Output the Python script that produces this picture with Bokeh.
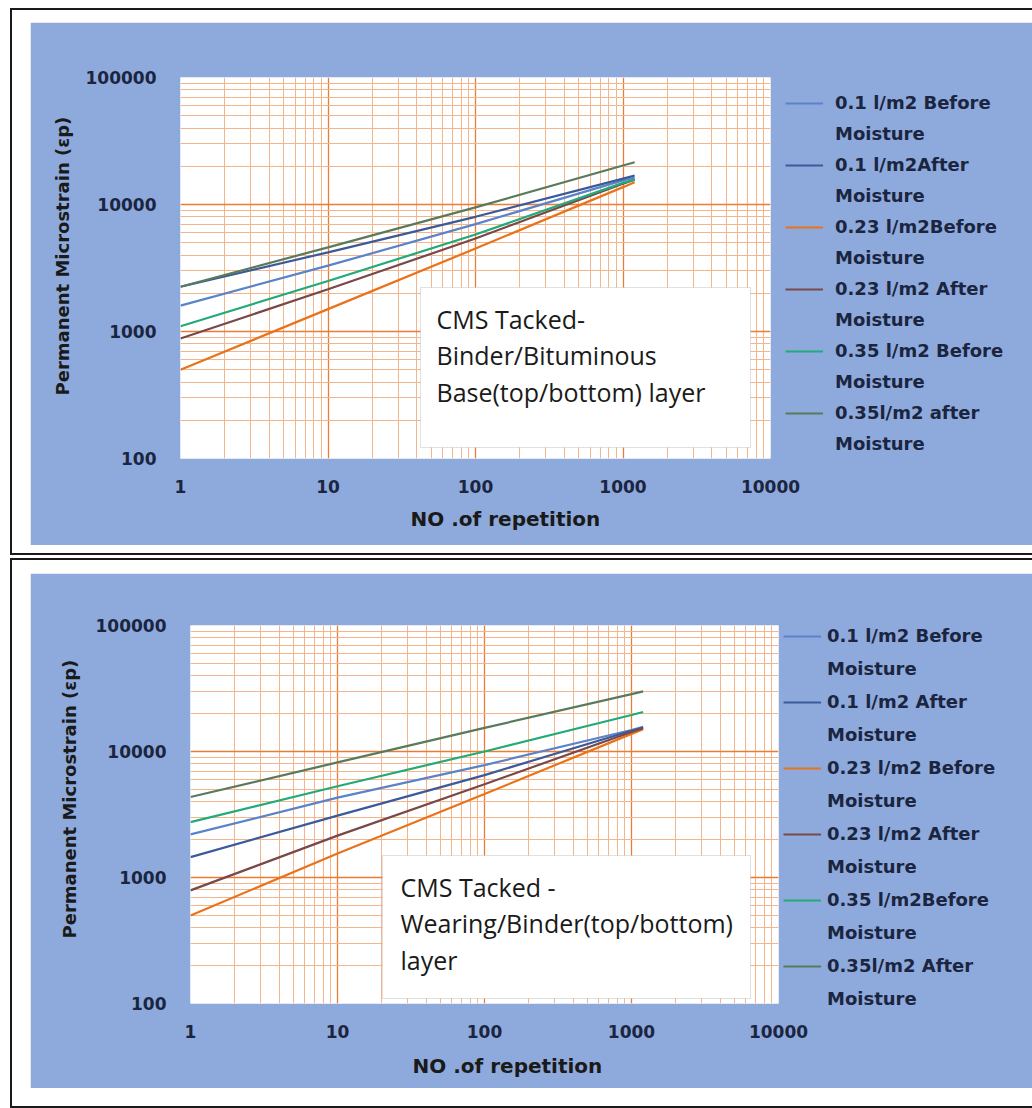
from bokeh.plotting import figure
from bokeh.models import (FixedTicker, Legend, LegendItem, BoxAnnotation, Label,
                          Range1d, PrintfTickFormatter, Title)
from bokeh.layouts import column
from bokeh.embed import file_html
from bokeh.resources import INLINE

# ---------------- data ----------------
repetitions = [1, 10, 100, 1000, 1200]

top_labels = ["0.1 l/m2 Before", "0.1 l/m2After", "0.23 l/m2Before",
              "0.23 l/m2 After", "0.35 l/m2 Before", "0.35l/m2 after"]
bottom_labels = ["0.1 l/m2 Before", "0.1 l/m2 After", "0.23 l/m2 Before",
                 "0.23 l/m2 After", "0.35 l/m2Before", "0.35l/m2 After"]
second_line = "Moisture"

# top chart: CMS Tacked - Binder/Bituminous Base
top_01_before = [1600, 3300, 7000, 15500, 16300]
top_01_after = [2250, 4200, 8000, 16000, 16900]
top_023_before = [500, 1500, 4500, 13700, 15000]
top_023_after = [880, 2150, 5400, 14600, 15700]
top_035_before = [1100, 2500, 5800, 14800, 15700]
top_035_after = [2250, 4600, 9500, 20300, 21500]

# bottom chart: CMS Tacked - Wearing/Binder
bot_01_before = [2200, 4300, 7800, 14800, 15700]
bot_01_after = [1450, 3100, 6500, 14600, 15500]
bot_023_before = [500, 1550, 4600, 13800, 15000]
bot_023_after = [790, 2150, 5500, 14300, 15300]
bot_035_before = [2750, 5300, 10000, 19500, 20600]
bot_035_after = [4350, 8200, 15400, 28500, 30000]

x_ticks = [1, 10, 100, 1000, 10000]
y_ticks = [100, 1000, 10000, 100000]
x_minor = [m * 10 ** k for k in range(0, 4) for m in range(2, 10)]
y_minor = [m * 10 ** k for k in range(2, 5) for m in range(2, 10)]

colors = ["#5b83c9", "#3b5a9a", "#e8731c", "#7a4848", "#22aa78", "#5a7a5c"]

BLUE = "#8eaadc"
TXT = "#1b2540"
FONT = "DejaVu Sans"


def make_chart(series, labels, box_lines, g):
    p = figure(x_axis_type="log", y_axis_type="log",
               x_range=Range1d(1, 10000), y_range=Range1d(100, 100000),
               frame_width=g["fw"], frame_height=g["fh"],
               min_border_left=g["l"], min_border_right=g["r"],
               min_border_top=g["t"], min_border_bottom=g["b"],
               output_backend="svg", toolbar_location=None,
               background_fill_color="white", border_fill_color=BLUE,
               outline_line_color=None)

    for ax, tk, mn in ((p.xaxis[0], x_ticks, x_minor), (p.yaxis[0], y_ticks, y_minor)):
        ax.ticker = FixedTicker(ticks=tk, minor_ticks=mn)
        ax.formatter = PrintfTickFormatter(format="%d")
        ax.axis_line_color = None
        ax.major_tick_line_color = None
        ax.minor_tick_line_color = None
        ax.major_label_text_font = FONT
        ax.major_label_text_font_style = "bold"
        ax.major_label_text_font_size = "17px"
        ax.major_label_text_color = TXT
    p.xaxis.major_label_standoff = 15
    p.yaxis.major_label_standoff = 18

    p.add_layout(Title(text="NO .of repetition", align="left", offset=g["xo"],
                       text_font=FONT, text_font_style="bold", text_font_size="20px",
                       text_color="#1a1a1a", standoff=g["xs"]), "below")
    p.add_layout(Title(text="Permanent Microstrain (\u03b5p)", align="left",
                       offset=g["yo"], text_font=FONT, text_font_style="bold",
                       text_font_size="18px", text_color="#1a1a1a",
                       standoff=g["ys"]), "left")

    for grid in (p.xgrid[0], p.ygrid[0]):
        grid.grid_line_color = "#ec7c34"
        grid.grid_line_width = 1.3
        grid.minor_grid_line_color = "#f3b58c"
        grid.minor_grid_line_width = 1

    items = []
    for vals, lab, col in zip(series, labels, colors):
        r = p.line(repetitions, vals, line_color=col, line_width=2.2)
        ghost = p.line(repetitions, vals, line_alpha=0)
        items.append(LegendItem(label=lab, renderers=[r]))
        items.append(LegendItem(label=second_line, renderers=[ghost]))

    legend = Legend(items=items, location=(g["lx"], g["ly"]), padding=0, margin=0,
                    spacing=g["sp"], glyph_width=38, glyph_height=20, label_height=20,
                    label_standoff=g["ls"], label_text_font=FONT,
                    label_text_font_style="bold", label_text_font_size="18px",
                    label_text_color=TXT, background_fill_alpha=0,
                    border_line_color=None)
    p.add_layout(legend, "right")

    bl, br, bb, bt = g["box"]
    p.add_layout(BoxAnnotation(left=bl, right=br, bottom=bb, top=bt,
                               left_units="screen", right_units="screen",
                               bottom_units="screen", top_units="screen",
                               fill_color="white", fill_alpha=1.0,
                               line_color="#9a9a9a", line_width=1))
    for j, txt in enumerate(box_lines):
        p.add_layout(Label(x=g["tx"], y=g["ty"] - j * 36.5, x_units="screen",
                           y_units="screen", text=txt, text_font="Open Sans",
                           text_font_size="25px", text_color="#1a1a1a",
                           text_baseline="middle"))
    return p


g_top = dict(fw=590, fh=381, l=150, r=248, t=55, b=87, xo=230, xs=19, yo=63, ys=20,
             lx=15, ly=4, sp=10, ls=12,
             box=(240, 570, 11, 171), tx=256, ty=140)
g_bot = dict(fw=588, fh=378, l=160, r=240, t=52, b=85, xo=222, xs=22, yo=65, ys=26,
             lx=5, ly=-6, sp=12, ls=6,
             box=(192, 560, 5, 148), tx=210, ty=117)

p1 = make_chart([top_01_before, top_01_after, top_023_before, top_023_after,
                 top_035_before, top_035_after], top_labels,
                ["CMS Tacked-", "Binder/Bituminous", "Base(top/bottom) layer"], g_top)
p2 = make_chart([bot_01_before, bot_01_after, bot_023_before, bot_023_after,
                 bot_035_before, bot_035_after], bottom_labels,
                ["CMS Tacked -", "Wearing/Binder(top/bottom)", "layer"], g_bot)

box1 = column(p1, styles={"border": "2px solid #1a1a1a", "padding": "12px 1px 8px 18px",
                          "background-color": "white"})
box2 = column(p2, styles={"border": "2px solid #1a1a1a", "padding": "13px 10px 18px 18px",
                          "background-color": "white"})
box1.margin = (8, 0, 0, 10)
box2.margin = (3, 0, 0, 10)
box1.align = "start"
box2.align = "start"
root = column(box1, box2, spacing=0)

open("out.html", "w").write(file_html(root, INLINE))
